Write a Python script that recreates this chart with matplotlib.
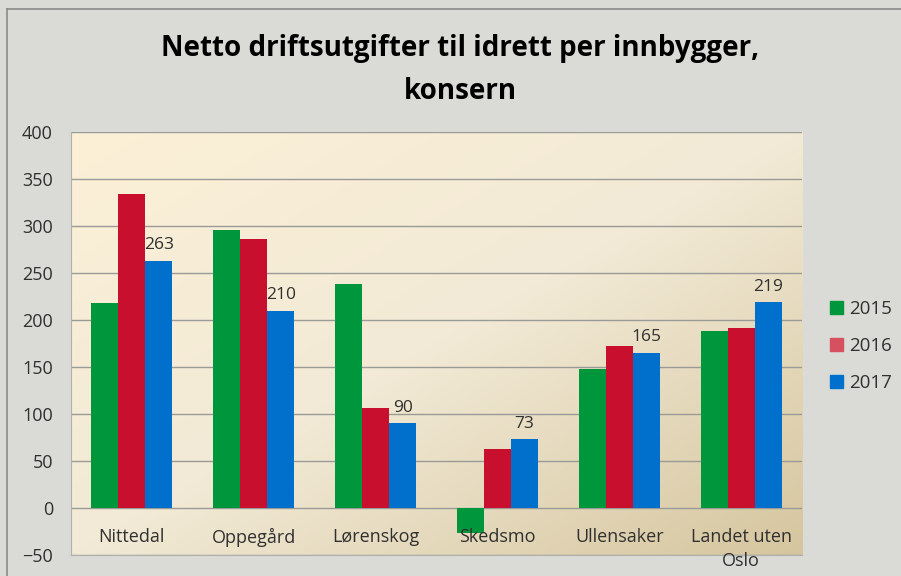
import numpy as np
import matplotlib.pyplot as plt
from matplotlib.colors import LinearSegmentedColormap
from matplotlib.lines import Line2D
from matplotlib.patches import Patch

plt.rcParams['font.family'] = ['Open Sans', 'DejaVu Sans']

categories = ['Nittedal', 'Oppegård', 'Lørenskog', 'Skedsmo', 'Ullensaker', 'Landet uten\nOslo']
years = ['2015', '2016', '2017']
v2015 = [218, 296, 238, -27, 148, 188]
v2016 = [334, 286, 106, 63, 172, 192]
v2017 = [263, 210, 90, 73, 165, 219]

colors = ['#00963c', '#c8102e', '#0070cc']
legend_colors = ['#00963c', '#d6505f', '#0070cc']

fig = plt.figure(figsize=(9.01, 5.76), dpi=100, facecolor='#dadbd6')
ax = fig.add_axes([71 / 901, 1 - 555 / 576, (802 - 71) / 901, (555 - 132) / 576])

# gradient background of plot area
gx, gy = np.meshgrid(np.linspace(0, 1, 200), np.linspace(0, 1, 200))
grad = (gx + gy) / 2
cmap = LinearSegmentedColormap.from_list('bg', ['#fcf0d7', '#f2ead6', '#d6c69f'])
ax.imshow(grad, extent=[0, 1, 0, 1], transform=ax.transAxes, cmap=cmap,
          aspect='auto', zorder=0, origin='upper')

x = np.arange(len(categories))
w = 0.222
for i, vals in enumerate([v2015, v2016, v2017]):
    ax.bar(x + (i - 1) * w, vals, w, color=colors[i], zorder=3, linewidth=0)

for xi, v in zip(x, v2017):
    ax.text(xi + w, v + 8, str(v), ha='center', va='bottom', fontsize=12.5, color='#303030', zorder=4)

ax.set_xlim(-0.5, len(categories) - 0.5)
ax.set_ylim(-50, 400)
ax.set_yticks(np.arange(-50, 401, 50))
ax.yaxis.grid(True, color='#9a9a96', linewidth=1, zorder=1)
ax.set_axisbelow(True)
ax.tick_params(axis='y', length=0, pad=13, labelsize=13, labelcolor='#303030')
ax.set_xticks([])
for s in ['top', 'right']:
    ax.spines[s].set_visible(False)
for s in ['left', 'bottom']:
    ax.spines[s].set_color('#b0b0aa')

for xi, c in zip(x, categories):
    ax.text(xi, -21, c, ha='center', va='top', fontsize=13, color='#303030',
            linespacing=1.45, zorder=4, clip_on=False)

fig.text(460 / 901, 1 - 70 / 576, 'Netto driftsutgifter til idrett per innbygger,\nkonsern',
         ha='center', va='center', fontsize=20, fontweight='bold', linespacing=1.6)

handles = [Patch(color=c) for c in legend_colors]
fig.legend(handles, years, loc='center left', bbox_to_anchor=(813 / 901, 1 - 346 / 576),
           frameon=False, fontsize=13.5, handlelength=0.7, handleheight=0.7,
           handletextpad=0.3, labelspacing=1.0, labelcolor='#303030')

# outer border lines (top and left)
fig.add_artist(Line2D([7 / 901, 1], [1 - 9 / 576, 1 - 9 / 576], color='#8a8a8a', linewidth=1.2))
fig.add_artist(Line2D([7 / 901, 7 / 901], [0, 1 - 9 / 576], color='#8a8a8a', linewidth=1.2))

fig.savefig('out.png', dpi=100, facecolor=fig.get_facecolor())
